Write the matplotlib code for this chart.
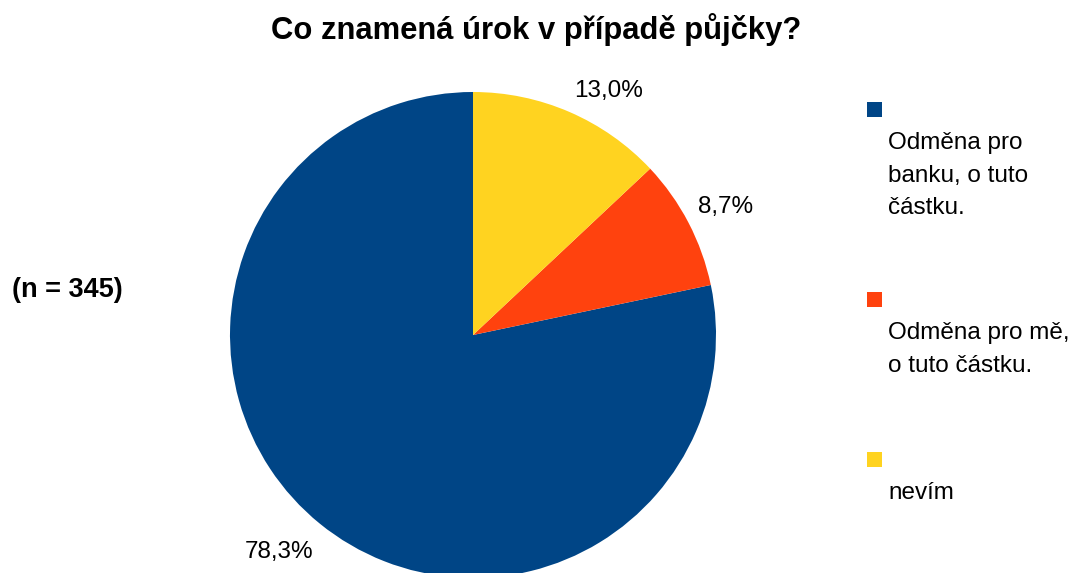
import numpy as np
import matplotlib
matplotlib.use('Agg')
import matplotlib.pyplot as plt
from matplotlib.patches import Rectangle

plt.rcParams['font.family'] = ['Liberation Sans', 'DejaVu Sans']

# data
labels = ['Odměna pro\nbanku, o tuto\nčástku.', 'Odměna pro mě,\no tuto částku.', 'nevím']
shares = [78.3, 8.7, 13.0]
colors = ['#004586', '#ff420e', '#ffd320']
title = 'Co znamená úrok v případě půjčky?'
note = '(n = 345)'

W, H = 1070, 573
fig = plt.figure(figsize=(W / 100, H / 100), dpi=100)

def fx(px):
    return px / W

def fy(py):
    return 1 - py / H

# pie axes: center (473, 335), radius 243 px
cx, cy, r = 473, 335, 243
ax = fig.add_axes([fx(cx - r), fy(cy + r), 2 * r / W, 2 * r / H])
wedges, _ = ax.pie(shares, colors=colors, startangle=90, counterclock=True,
                   radius=1.0, wedgeprops=dict(linewidth=0))
ax.set_xlim(-1, 1)
ax.set_ylim(-1, 1)
ax.set_aspect('equal')
ax.axis('off')

# percentage labels just outside each wedge
for w, v in zip(wedges, shares):
    a = np.deg2rad((w.theta1 + w.theta2) / 2)
    c, s = np.cos(a), np.sin(a)
    dy = 8 * s if s > 0 else 8 * s - 6
    ax.annotate(('%.1f%%' % v).replace('.', ','), xy=(c, s),
                xytext=(8 * c, dy), textcoords='offset points',
                ha='left' if c > 0 else 'right',
                va='bottom' if s > 0 else 'top',
                fontsize=17.5, color='black', annotation_clip=False)

fig.text(fx(536), fy(30), title, ha='center', va='center',
         fontsize=22.3, fontweight='bold')
fig.text(fx(67), fy(290), note, ha='center', va='center',
         fontsize=19.5, fontweight='bold')

# legend: square above each wrapped label
sq_tops = [102, 292, 452]
for lab, col, top in zip(labels, colors, sq_tops):
    fig.add_artist(Rectangle((fx(867), fy(top + 15)), 15 / W, 15 / H,
                             transform=fig.transFigure, facecolor=col,
                             edgecolor='none'))
    fig.text(fx(888), fy(top + 30), lab, ha='left', va='top',
             fontsize=17.5, linespacing=1.62)

fig.savefig('out.png', dpi=100)
